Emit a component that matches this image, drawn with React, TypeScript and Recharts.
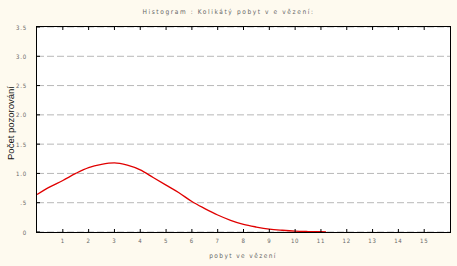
import React from "react";
import { LineChart, Line, XAxis, YAxis, CartesianGrid } from "recharts";

const xValues = [0, 0.5, 1, 1.5, 2, 2.5, 3, 3.5, 4, 4.5, 5, 5.5, 6, 6.5, 7, 7.5, 8, 8.5, 9, 9.5, 10, 10.5, 11, 11.2];
const countValues = [0.64, 0.77, 0.88, 1.0, 1.1, 1.155, 1.18, 1.14, 1.06, 0.93, 0.8, 0.67, 0.52, 0.4, 0.29, 0.2, 0.13, 0.085, 0.05, 0.03, 0.015, 0.008, 0.004, 0.003];
const xTicks = [1, 2, 3, 4, 5, 6, 7, 8, 9, 10, 11, 12, 13, 14, 15];
const yTicks = [0, 0.5, 1, 1.5, 2, 2.5, 3, 3.5];
const yTickLabels = ["0", ".5", "1.0", "1.5", "2.0", "2.5", "3.0", "3.5"];

const title = "Histogram : Kolikátý pobyt v e vězení:";
const xTitle = "pobyt ve vězení";
const yTitle = "Počet pozorování";

const data = xValues.map((x, i) => ({ x, y: countValues[i] }));

const smallFont = "'Liberation Sans Narrow', 'DejaVu Sans Condensed', 'DejaVu Sans', sans-serif";

const labelStyle = {
  fontSize: 6,
  fill: "#666",
  fontFamily: smallFont,
  letterSpacing: 0.8,
};

const BottomTick = (props: any) => {
  const { x, y, payload } = props;
  return (
    <g>
      <line x1={x} y1={y} x2={x} y2={y - 3} stroke="#000" strokeWidth={1} />
      <text x={x} y={y + 11} textAnchor="middle" style={labelStyle as any}>
        {String(payload.value)}
      </text>
    </g>
  );
};

const TopTick = (props: any) => {
  const { x, y } = props;
  return <line x1={x} y1={y} x2={x} y2={y + 3} stroke="#000" strokeWidth={1} />;
};

const LeftTick = (props: any) => {
  const { x, y, payload } = props;
  const label = yTickLabels[yTicks.indexOf(payload.value)] ?? String(payload.value);
  return (
    <g>
      <line x1={x} y1={y} x2={x + 3} y2={y} stroke="#000" strokeWidth={1} />
      <text x={x - 10} y={y + 2.5} textAnchor="end" style={labelStyle as any}>
        {label}
      </text>
    </g>
  );
};

const RightTick = (props: any) => {
  const { x, y } = props;
  return <line x1={x} y1={y} x2={x - 3} y2={y} stroke="#000" strokeWidth={1} />;
};

export default function App() {
  return (
    <div
      style={{
        position: "absolute",
        left: 0,
        top: 0,
        width: 457,
        height: 266,
        background: "#fefaef",
        overflow: "hidden",
      }}
    >
      <div
        style={{
          position: "absolute",
          left: 37,
          top: 27,
          width: 413,
          height: 205,
          background: "#ffffff",
        }}
      />
      <div style={{ position: "absolute", left: 0, top: 0 }}>
        <LineChart
          width={457}
          height={266}
          data={data}
          margin={{ top: 26, right: 6, bottom: 0, left: 7 }}
        >
          <CartesianGrid
            xAxisId="b"
            yAxisId="l"
            vertical={false}
            stroke="#b8b8b8"
            strokeDasharray="7 3"
          />
          <XAxis
            xAxisId="b"
            dataKey="x"
            type="number"
            domain={[0, 16]}
            ticks={xTicks}
            interval={0}
            height={34}
            tickSize={0}
            tickMargin={0}
            axisLine={false}
            tickLine={false}
            tick={<BottomTick />}
          />
          <XAxis
            xAxisId="t"
            orientation="top"
            dataKey="x"
            type="number"
            domain={[0, 16]}
            ticks={xTicks}
            interval={0}
            height={1}
            tickSize={0}
            tickMargin={0}
            axisLine={false}
            tickLine={false}
            tick={<TopTick />}
          />
          <YAxis
            yAxisId="l"
            type="number"
            domain={[0, 3.5]}
            ticks={yTicks}
            interval={0}
            width={30}
            tickSize={0}
            tickMargin={0}
            axisLine={false}
            tickLine={false}
            tick={<LeftTick />}
          />
          <YAxis
            yAxisId="r"
            orientation="right"
            type="number"
            domain={[0, 3.5]}
            ticks={yTicks}
            interval={0}
            width={1}
            tickSize={0}
            tickMargin={0}
            axisLine={false}
            tickLine={false}
            tick={<RightTick />}
          />
          <Line
            xAxisId="b"
            yAxisId="l"
            type="monotone"
            dataKey="y"
            stroke="#e00000"
            strokeWidth={1.3}
            dot={false}
            isAnimationActive={false}
          />
        </LineChart>
      </div>
      <div
        style={{
          position: "absolute",
          left: 36,
          top: 26,
          width: 413,
          height: 205,
          border: "1.5px solid #000",
          boxSizing: "content-box",
          pointerEvents: "none",
        }}
      />
      <div
        style={{
          position: "absolute",
          left: 0,
          width: 457,
          top: 8,
          textAlign: "center",
          fontFamily: smallFont,
          fontSize: 6.5,
          letterSpacing: 1.6,
          color: "#666",
          whiteSpace: "nowrap",
        }}
      >
        {title}
      </div>
      <div
        style={{
          position: "absolute",
          left: 143,
          width: 200,
          top: 252,
          textAlign: "center",
          fontFamily: smallFont,
          fontSize: 6.5,
          letterSpacing: 1.4,
          color: "#666",
          whiteSpace: "nowrap",
        }}
      >
        {xTitle}
      </div>
      <div
        style={{
          position: "absolute",
          left: 11 - 60,
          top: 123 - 6,
          width: 120,
          height: 12,
          lineHeight: "12px",
          textAlign: "center",
          fontFamily: "Liberation Sans",
          fontSize: 9.5,
          color: "#111",
          transform: "rotate(-90deg)",
          whiteSpace: "nowrap",
        }}
      >
        {yTitle}
      </div>
    </div>
  );
}
